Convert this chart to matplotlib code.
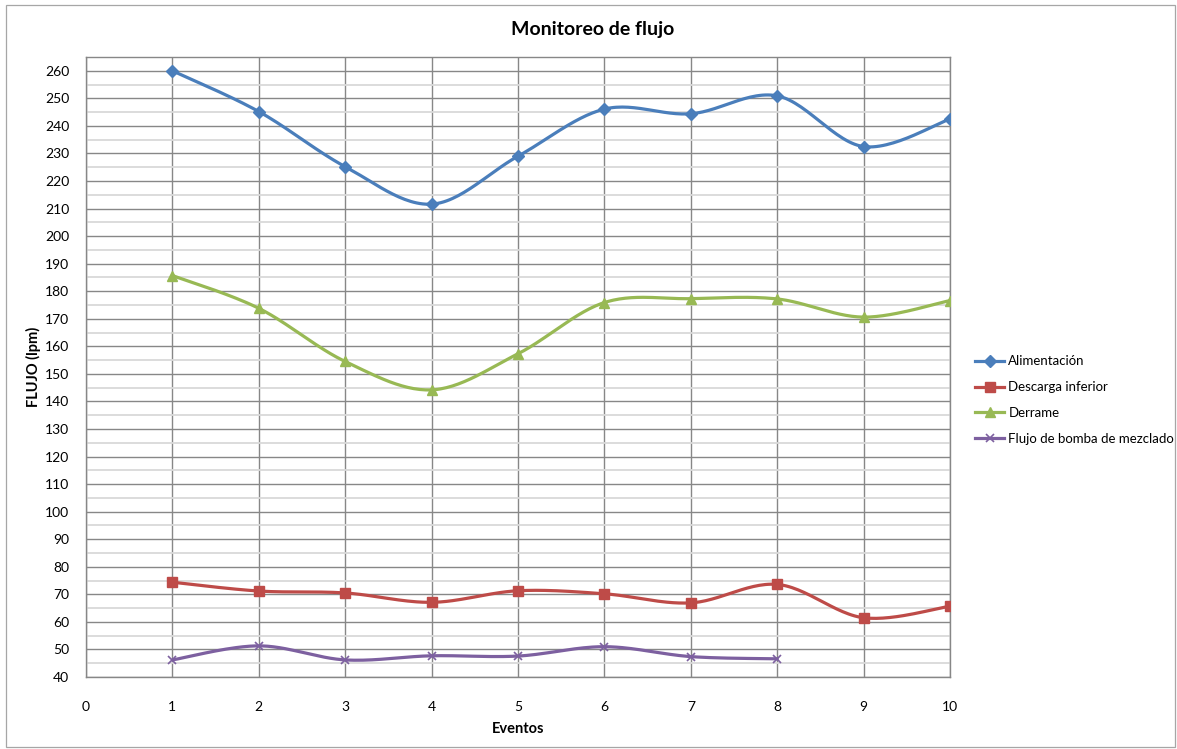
import numpy as np
import matplotlib
matplotlib.use("Agg")
import matplotlib.pyplot as plt
from matplotlib.patches import Rectangle
from matplotlib.ticker import MultipleLocator

plt.rcParams['font.family'] = ['Lato', 'DejaVu Sans']

eventos = [1, 2, 3, 4, 5, 6, 7, 8, 9, 10]
alimentacion = [260.0, 245.2, 225.2, 211.6, 229.0, 246.1, 244.4, 250.9, 232.5, 242.5]
descarga_inferior = [74.4, 71.2, 70.5, 67.1, 71.3, 70.2, 66.9, 73.6, 61.5, 65.7]
derrame = [185.7, 173.8, 154.5, 144.2, 157.3, 175.9, 177.3, 177.2, 170.6, 176.6]
eventos_bomba = [1, 2, 3, 4, 5, 6, 7, 8]
flujo_bomba = [46.2, 51.3, 46.2, 47.7, 47.6, 51.0, 47.4, 46.6]

series = [
    ("Alimentación", eventos, alimentacion, "#4A7EBB", "D", 6),
    ("Descarga inferior", eventos, descarga_inferior, "#BE4B48", "s", 7),
    ("Derrame", eventos, derrame, "#98B954", "^", 7),
    ("Flujo de bomba de mezclado", eventos_bomba, flujo_bomba, "#7D60A0", "x", 6),
]


def excel_smooth(x, y, n=30):
    x = np.asarray(x, float)
    y = np.asarray(y, float)
    px = np.concatenate([[x[0]], x, [x[-1]]])
    py = np.concatenate([[y[0]], y, [y[-1]]])
    xs, ys = [], []
    t = np.linspace(0, 1, n)
    for i in range(1, len(px) - 2):
        p0 = np.array([px[i], py[i]])
        p3 = np.array([px[i + 1], py[i + 1]])
        c1 = p0 + (p3 - np.array([px[i - 1], py[i - 1]])) / 6.0
        c2 = p3 - (np.array([px[i + 2], py[i + 2]]) - p0) / 6.0
        b = ((1 - t) ** 3)[:, None] * p0 + (3 * (1 - t) ** 2 * t)[:, None] * c1 \
            + (3 * (1 - t) * t ** 2)[:, None] * c2 + (t ** 3)[:, None] * p3
        xs.extend(b[:, 0])
        ys.extend(b[:, 1])
    return np.array(xs), np.array(ys)


fig = plt.figure(figsize=(11.77, 7.49), dpi=100)
fig.patches.append(Rectangle((6 / 1177, 2 / 749), 1169 / 1177, 742 / 749,
                             transform=fig.transFigure, fill=False,
                             edgecolor="#A6A6A6", linewidth=0.9))

ax = fig.add_axes([86 / 1177, 1 - 677 / 749, 864 / 1177, 620 / 749])
ax.set_xlim(0, 10)
ax.set_ylim(40, 265)
ax.yaxis.set_major_locator(MultipleLocator(10))
ax.yaxis.set_minor_locator(MultipleLocator(5))
ax.xaxis.set_major_locator(MultipleLocator(1))
ax.set_yticks(np.arange(40, 261, 10))

ax.grid(which="minor", axis="y", color="#D9D9D9", linewidth=1.3)
ax.grid(which="major", axis="y", color="#878787", linewidth=1.0)
ax.grid(which="major", axis="x", color="#878787", linewidth=1.0)
ax.set_axisbelow(True)
for s in ax.spines.values():
    s.set_color("#878787")
    s.set_linewidth(1.0)
ax.tick_params(which="both", length=0, labelsize=10, colors="black")
ax.tick_params(axis="y", pad=12)
ax.tick_params(axis="x", pad=17)

handles = []
for name, xv, yv, col, mk, ms in series:
    sx, sy = excel_smooth(xv, yv)
    ax.plot(sx, sy, color=col, linewidth=2.3, solid_capstyle="round", zorder=3)
    if mk == "x":
        ax.plot(xv, yv, linestyle="none", marker=mk, markersize=ms,
                markeredgecolor=col, markeredgewidth=1.2, zorder=4)
    else:
        ax.plot(xv, yv, linestyle="none", marker=mk, markersize=ms,
                markerfacecolor=col, markeredgecolor=col, zorder=4)
    h, = ax.plot([], [], color=col, linewidth=2.3, marker=mk, markersize=ms,
                 markerfacecolor=col, markeredgecolor=col,
                 markeredgewidth=1.2 if mk == "x" else 1.0)
    handles.append(h)

ax.set_xlabel("Eventos", fontsize=10.5, fontweight="bold", labelpad=7)
ax.set_ylabel("FLUJO (lpm)", fontsize=10.5, fontweight="bold", labelpad=3)
fig.text(593 / 1177, 1 - 29 / 749, "Monitoreo de flujo", ha="center", va="center",
         fontsize=14, fontweight="bold")

fig.legend(handles, [s[0] for s in series], loc="upper left",
           bbox_to_anchor=(970 / 1177, 1 - 350 / 749), frameon=False,
           fontsize=9.5, handlelength=2.2, handletextpad=0.3, labelspacing=1.05,
           borderaxespad=0)

fig.savefig("out.png", dpi=100)
